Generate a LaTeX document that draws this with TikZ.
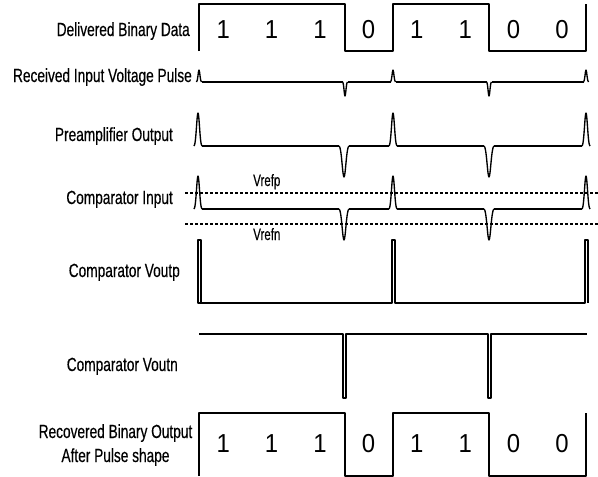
\documentclass[tikz,border=0pt]{standalone}
\usepackage{fontspec}
\setmainfont[FakeStretch=0.72,FakeBold=0.4]{Liberation Sans}
\newfontfamily\digfont[FakeStretch=0.92]{Liberation Sans}
\newfontfamily\reffont[FakeStretch=0.7,FakeBold=0.3]{Liberation Sans}
\tikzset{
  sig/.style={line width=1.35pt, line join=round, line cap=butt},
  lbl/.style={font=\fontsize{19}{22}\selectfont, inner sep=0pt},
  dig/.style={font=\digfont\fontsize{26}{30}\selectfont, inner sep=0pt, anchor=base},
  vref/.style={font=\reffont\fontsize{16.5}{19}\selectfont, inner sep=0pt, anchor=base west},
  refline/.style={line width=1.2pt, dash pattern=on 3pt off 2pt},
}
\newcommand{\spike}[4]{\draw[sig] ({#1-#4},#2) .. controls ({#1-0.5*#4},#2) and ({#1-0.3*#4},#3) .. (#1,#3) .. controls ({#1+0.3*#4},#3) and ({#1+0.5*#4},#2) .. ({#1+#4},#2);}
\begin{document}
\begin{tikzpicture}[x=1pt,y=-1pt]
\useasboundingbox (0,0) rectangle (598,477);
% labels
\node[lbl,anchor=base east] (l1) at (190,36) {Delivered Binary Data};
\node[lbl,anchor=base east] (l2) at (192,82) {Received Input Voltage Pulse};
\node[lbl,anchor=base east] (l3) at (173,141) {Preamplifier Output};
\node[lbl,anchor=base east] (l4) at (173,204) {Comparator Input};
\node[lbl,anchor=base east] (l5) at (180,277) {Comparator Voutp};
\node[lbl,anchor=base east] (l6) at (178,371) {Comparator Voutn};
\node[lbl,anchor=base] (l7) at (115.5,438) {Recovered Binary Output};
\node[lbl,anchor=base] (l8) at (115.5,462) {After Pulse shape};
% row 1: delivered data
\draw[sig] (199,51) -- (199,4) -- (345,4) -- (345,51) -- (393,51) -- (393,4) -- (489,4) -- (489,51) -- (586,51) -- (586,4);
\foreach \b [count=\i] in {1,1,1,0,1,1,0,0}
  \node[dig] (d\i) at ({199+48.4*(\i-0.5)},38) {\b};
% row 2: received pulses
\spike{199}{82}{70}{2.5}
\spike{393}{82}{70}{2.5}
\spike{586}{82}{70}{2.5}
\spike{345}{82}{96}{2.5}
\spike{489}{82}{96}{2.5}
\draw[sig] (201.5,82) -- (342.5,82) (347.5,82) -- (390.5,82) (395.5,82) -- (486.5,82) (491.5,82) -- (583.5,82);
% row 3: preamplifier
\spike{198}{146}{113}{4}
\spike{393}{146}{113}{4}
\spike{586}{146}{113}{4}
\spike{344}{146}{177}{5}
\spike{489}{146}{177}{5}
\draw[sig] (202,146) -- (339,146) (349,146) -- (389,146) (397,146) -- (484,146) (494,146) -- (582,146);
% row 4: comparator input
\draw[refline] (185,193) -- (598,193);
\draw[refline] (185,224) -- (598,224);
\node[vref] (vp) at (253,186) {Vrefp};
\node[vref] (vn) at (253,240) {Vrefn};
\spike{198}{209}{176}{4}
\spike{393}{209}{176}{4}
\spike{586}{209}{176}{4}
\spike{344}{209}{240}{5}
\spike{489}{209}{240}{5}
\draw[sig] (202,209) -- (339,209) (349,209) -- (389,209) (397,209) -- (484,209) (494,209) -- (582,209);
% row 5: comparator voutp
\draw[sig] (201,302) -- (201,240) -- (198,240) -- (198,303) -- (392,303) -- (392,240) -- (395,240) -- (395,303) -- (585,303) -- (585,240) -- (588,240) -- (588,303);
% row 6: comparator voutn
\draw[sig] (199,334) -- (343,334) -- (343,398) -- (346,398) -- (346,334) -- (488,334) -- (488,398) -- (491,398) -- (491,334) -- (587,334);
% row 7: recovered data
\draw[sig] (199,476) -- (199,413) -- (345,413) -- (345,476) -- (393,476) -- (393,413) -- (489,413) -- (489,476) -- (586,476) -- (586,413);
\foreach \b [count=\i] in {1,1,1,0,1,1,0,0}
  \node[dig] (r\i) at ({199+48.4*(\i-0.5)},452) {\b};
\end{tikzpicture}
\end{document}
